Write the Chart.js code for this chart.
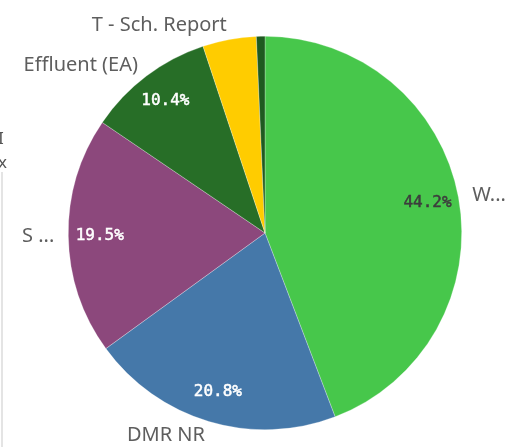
<!DOCTYPE html>
<html>
<head>
<meta charset="utf-8">
<script src="https://cdn.jsdelivr.net/npm/chart.js@4/dist/chart.umd.min.js"></script>
<style>
  html, body { margin: 0; padding: 0; background: #fff; }
  #wrap { position: relative; width: 513px; height: 447px; overflow: hidden; }
  #edge { position: absolute; left: 1px; top: 172px; width: 2px; height: 275px; background: #e4e4e4; }
  .cut { position: absolute; left: -2px; font: 17px "Noto Sans", sans-serif; color: #555; }
</style>
</head>
<body>
<div id="wrap">
  <canvas id="myChart" width="513" height="447"></canvas>
  <div id="edge"></div>
  <span class="cut" style="top:126px">I</span>
  <span class="cut" style="top:150px">x</span>
</div>
<script>
// slices, clockwise from 12 o'clock
var labels = ["W...", "DMR NR", "S ...", "Effluent (EA)", "T - Sch. Report", "Other"];
var values = [44.2, 20.8, 19.5, 10.4, 4.4, 0.7];
var colors = ["#47c74b", "#4578a9", "#8c487c", "#276e27", "#ffcc00", "#1f5a20"];
var pctColors = ["#3d3d3d", "#ffffff", "#ffffff", "#ffffff", "#ffffff", "#ffffff"];

var total = values.reduce(function(a, b) { return a + b; }, 0);

var sliceLabels = {
  id: "sliceLabels",
  afterDatasetsDraw: function(chart) {
    var c = chart.ctx;
    var meta = chart.getDatasetMeta(0);
    meta.data.forEach(function(arc, i) {
      var p = arc.getProps(["x", "y", "startAngle", "endAngle", "outerRadius"], true);
      var mid = (p.startAngle + p.endAngle) / 2;
      var pct = values[i] / total * 100;
      var cos = Math.cos(mid), sin = Math.sin(mid);
      c.save();
      c.textBaseline = "middle";
      // category label outside
      if (pct >= 1) {
        var r = p.outerRadius + 14;
        c.font = "20px 'Noto Sans', sans-serif";
        c.fillStyle = "#5e5e5e";
        c.textAlign = cos >= 0 ? "left" : "right";
        c.fillText(labels[i], p.x + cos * r, p.y + sin * r);
      }
      // percentage inside
      if (pct >= 5) {
        var ri = p.outerRadius * 0.84;
        var tx = p.x + cos * ri, ty = p.y + sin * ri;
        var txt = pct.toFixed(1) + "%";
        c.font = "16px 'DejaVu Sans Mono', monospace";
        c.fillStyle = pctColors[i];
        c.strokeStyle = pctColors[i];
        c.lineWidth = 0.5;
        c.textAlign = "center";
        c.fillText(txt, tx, ty);
        c.strokeText(txt, tx, ty);
      }
      c.restore();
    });
  }
};

var ctx = document.getElementById("myChart");
new Chart(ctx, {
  type: "pie",
  data: {
    labels: labels,
    datasets: [{
      data: values,
      backgroundColor: colors,
      borderColor: "rgba(255,255,255,0.45)",
      borderWidth: 0.6
    }]
  },
  options: {
    responsive: false,
    animation: false,
    layout: {
      padding: { top: 36, bottom: 17, left: 68, right: 51 }
    },
    plugins: {
      legend: { display: false },
      tooltip: { enabled: false }
    }
  },
  plugins: [sliceLabels]
});
</script>
</body>
</html>
